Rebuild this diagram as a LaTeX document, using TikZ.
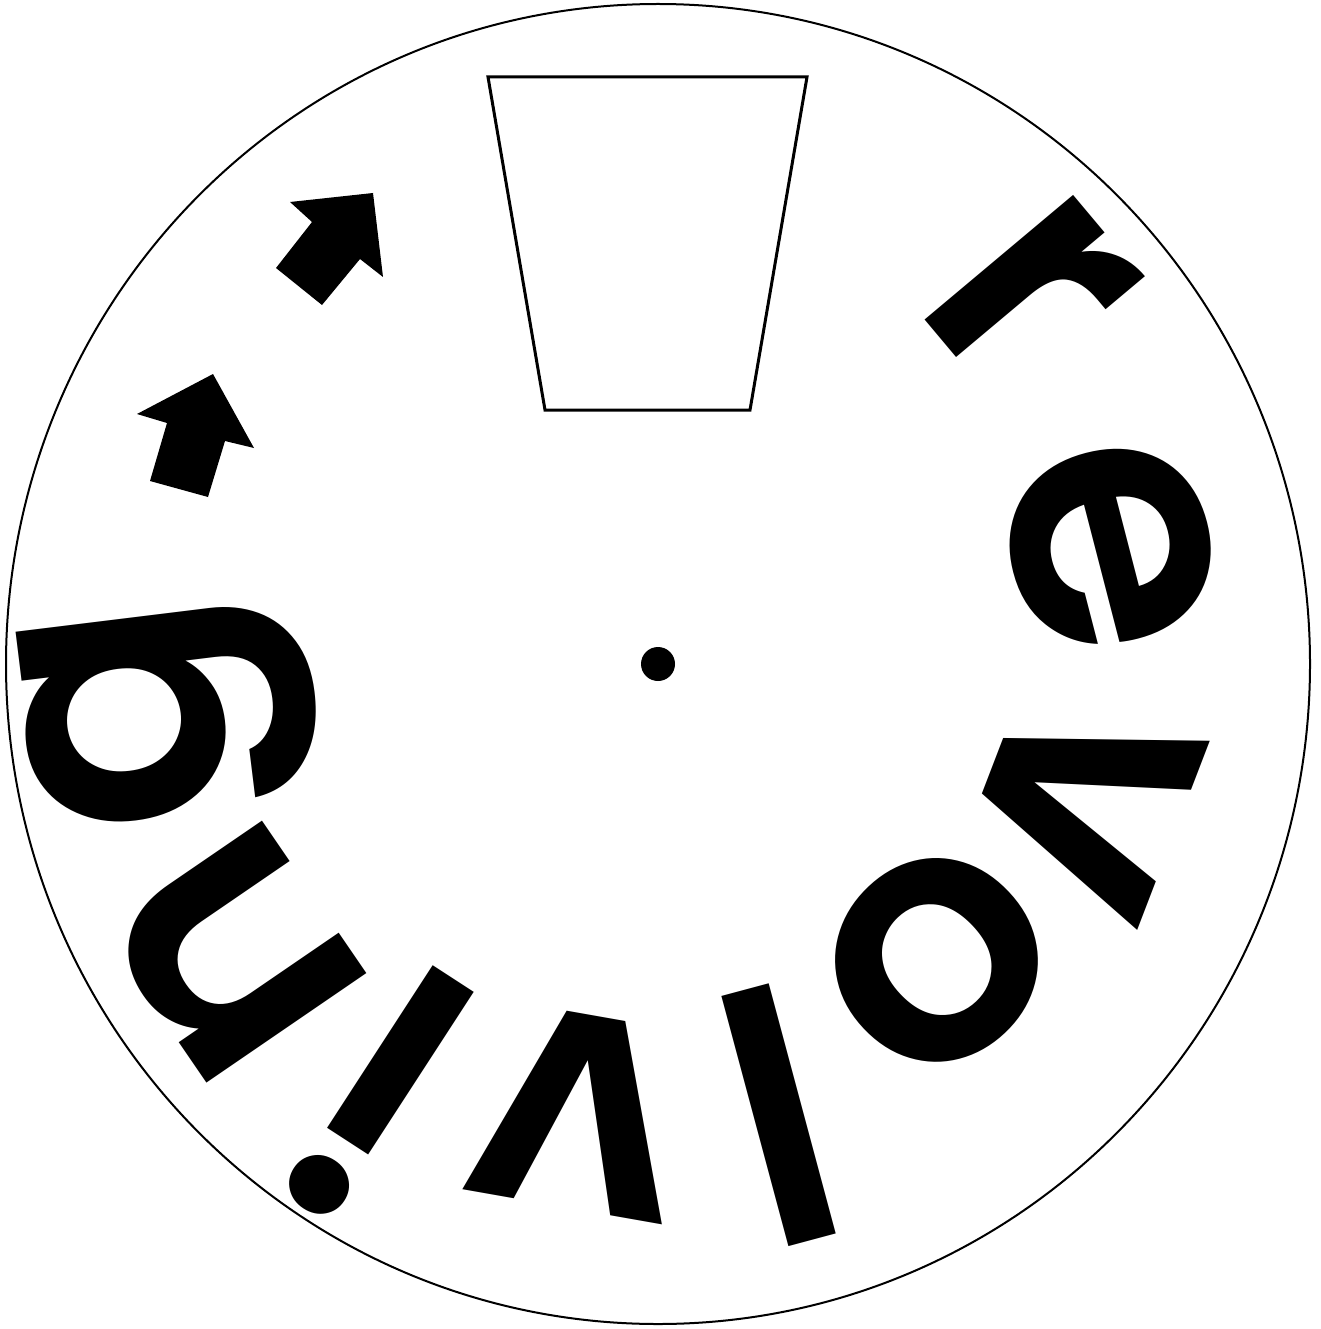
\documentclass[tikz,border=0pt]{standalone}
\usepackage{fontspec}
\newfontfamily\popfont{Poppins SemiBold}
\usetikzlibrary{calc}
\begin{document}
\begin{tikzpicture}[x=1pt,y=1pt,
  letter/.style={font=\popfont\fontsize{350}{350}\selectfont, inner sep=0pt, outer sep=0pt, anchor=base},
  rim/.style={line width=2},
  frame/.style={line width=3, line join=miter},
  arrowshape/.style={fill=black}]
\useasboundingbox (0,0) rectangle (1320,-1329);
\coordinate (C) at (658,-664);
% outer disc
\draw[rim] (C) ellipse [x radius=652, y radius=660];
% centre hole
\fill (C) circle (17);
% window
\draw[frame] (488,-77) -- (807,-77) -- (750,-410) -- (545,-410) -- cycle;
% arrows
\fill[arrowshape] (373,-193) -- (290,-202) -- (312,-222) -- (276,-268) -- (322,-305) -- (360,-259) -- (383,-277) -- cycle;
\fill[arrowshape] (213,-374) -- (137,-414) -- (167,-423) -- (150,-481) -- (208,-497) -- (225,-441) -- (254,-448) -- cycle;
% letters
\node[letter, rotate=-50]    (l1) at ($(C)+(46:428)$) {r};
\node[letter, rotate=-75.5]  (l2) at ($(C)+(14.5:370)$) {e};
\node[letter, rotate=-111]   (l3) at ($(C)+(-17:350)$) {v};
\node[letter, rotate=-136.7] (l4) at ($(C)+(-46.7:310)$) {o};
\node[letter, rotate=-165]   (l5) at ($(C)+(-75:338)$) {l};
\node[letter, rotate=-190]   (l6) at ($(C)+(-100:358)$) {v};
\node[letter, rotate=-213]   (l7) at ($(C)+(-123:375)$) {i};
\node[letter, rotate=-235.6] (l8) at ($(C)+(-145.6:415)$) {n};
\node[letter, rotate=97]     (l9) at ($(C)+(185:440)$) {g};
\end{tikzpicture}
\end{document}
